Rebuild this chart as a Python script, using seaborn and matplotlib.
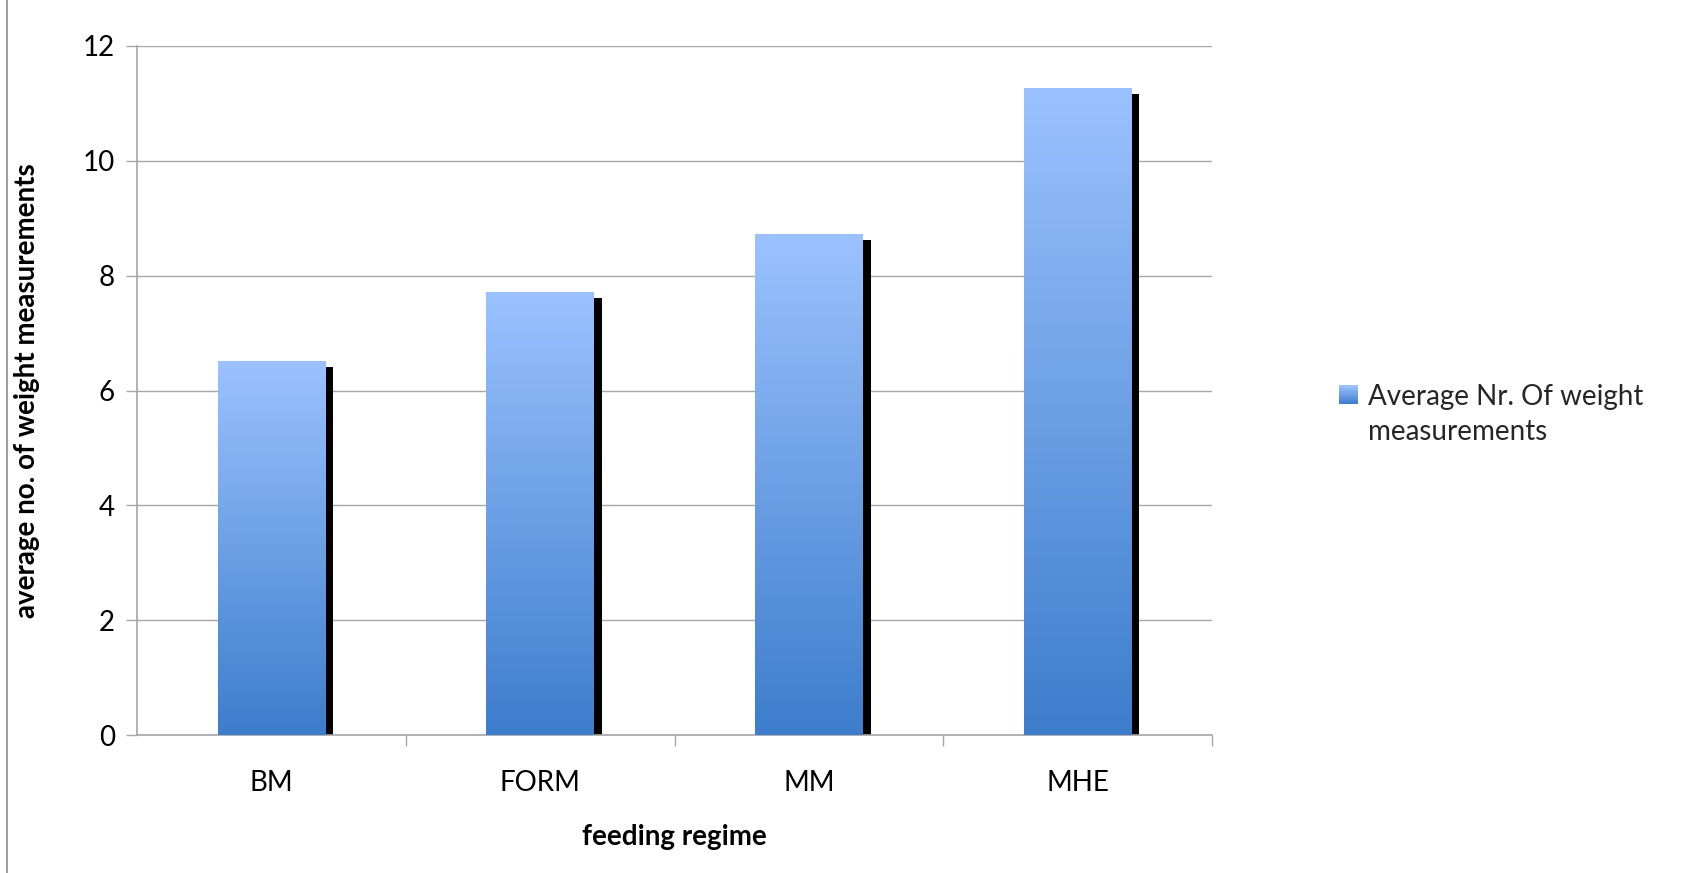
import numpy as np
import pandas as pd
import matplotlib
matplotlib.use("Agg")
import matplotlib.pyplot as plt
import matplotlib.transforms as mtransforms
from matplotlib.colors import LinearSegmentedColormap
from matplotlib.patches import Rectangle
from matplotlib.legend_handler import HandlerBase
from matplotlib.lines import Line2D
import seaborn as sns

# feeding regimes and mean number of weight measurements
regimes = ["BM", "FORM", "MM", "MHE"]
avg_measurements = [6.51, 7.71, 8.72, 11.27]
series_name = "Average Nr. Of weight\nmeasurements"
y_ticks = [0, 2, 4, 6, 8, 10, 12]

df = pd.DataFrame({"regime": regimes, "value": avg_measurements})

sns.set_theme(style="white")
plt.rcParams["font.family"] = ["Lato", "DejaVu Sans"]

W, H, DPI = 1702, 873, 100
fig = plt.figure(figsize=(W / DPI, H / DPI), dpi=DPI)
ax = fig.add_axes([137 / W, 1 - 735 / H, (1212 - 137) / W, (735 - 46) / H])

grad = LinearSegmentedColormap.from_list(
    "bar_grad", [(61 / 255, 125 / 255, 204 / 255), (155 / 255, 194 / 255, 255 / 255)])
grid_col = "#a6a6a6"
bar_w = 0.40
fs = 20

# drop shadow behind each bar
sns.barplot(data=df, x="regime", y="value", color="black", width=bar_w,
            saturation=1, ax=ax, zorder=2)
shadow_patches = list(ax.patches)
offset = mtransforms.ScaledTranslation(8 / DPI, -6 / DPI, fig.dpi_scale_trans)
for p in shadow_patches:
    p.set_transform(ax.transData + offset)
    p.set_linewidth(0)

# main bars with a vertical gradient fill
sns.barplot(data=df, x="regime", y="value", color="white", width=bar_w,
            saturation=1, ax=ax, zorder=3)
bar_patches = [p for p in ax.patches if p not in shadow_patches]
gradient = np.linspace(0, 1, 256).reshape(-1, 1)
for p in bar_patches:
    x0, y0 = p.get_x(), p.get_y()
    w, h = p.get_width(), p.get_height()
    p.set_facecolor("none")
    p.set_edgecolor("none")
    im = ax.imshow(gradient, cmap=grad, origin="lower", aspect="auto",
                   extent=[x0, x0 + w, y0, y0 + h], zorder=3, interpolation="bicubic")
    im.set_clip_path(p)

ax.set_xlim(-0.5, len(regimes) - 0.5)
ax.set_ylim(0, 12)
ax.set_yticks(y_ticks)
ax.set_yticklabels([str(t) for t in y_ticks])
ax.yaxis.grid(True, color=grid_col, linewidth=1.0, zorder=0)
ax.set_axisbelow(True)

# category boundary ticks on the x axis
ax.set_xticks(np.arange(len(regimes)))
ax.set_xticklabels(regimes)
ax.set_xticks(np.arange(len(regimes)) + 0.5, minor=True)
ax.tick_params(axis="x", which="major", length=0, pad=25, labelsize=fs, colors="black")
ax.tick_params(axis="x", which="minor", length=8, width=1, color=grid_col, bottom=True)
ax.tick_params(axis="y", length=8, width=1, color=grid_col, pad=8, labelsize=fs,
               colors="black", left=True)

for side in ("top", "right"):
    ax.spines[side].set_visible(False)
for side in ("left", "bottom"):
    ax.spines[side].set_color(grid_col)
    ax.spines[side].set_linewidth(1.2)

ax.set_xlabel("feeding regime", fontsize=fs, fontweight="bold", labelpad=20, color="black")
ax.set_ylabel("average no. of weight measurements", fontsize=fs, fontweight="bold",
              color="black")
ax.yaxis.set_label_coords(-(137 - 40) / (1212 - 137), 0.5)


class GradientSquare(HandlerBase):
    """Small gradient square aligned with the first line of the label."""

    def create_artists(self, legend, orig_handle, xdescent, ydescent,
                       width, height, fontsize, trans):
        size = min(width, height)
        x0 = xdescent + width - size
        y0 = -ydescent + (height - size) / 2 + 0.75 * fontsize
        artists = []
        n = 12
        for i in range(n):
            c = grad(1 - i / (n - 1))
            r = Rectangle((x0, y0 + size - (i + 1) * size / n), size, size / n,
                          facecolor=c, edgecolor="none", transform=trans)
            artists.append(r)
        return artists


legend_handle = Rectangle((0, 0), 1, 1)
leg = fig.legend([legend_handle], [series_name], handler_map={Rectangle: GradientSquare()},
                 loc="upper left", bbox_to_anchor=(1314 / W, 1 - 359 / H), frameon=False,
                 fontsize=fs, handlelength=0.7, handleheight=0.7, handletextpad=0.35,
                 labelspacing=0.3)
for t in leg.get_texts():
    t.set_linespacing(1.45)

# outer chart frame edge on the left
fig.add_artist(Line2D([7 / W, 7 / W], [0, 1], transform=fig.transFigure,
                      color="#8c8c8c", linewidth=1.2))

fig.savefig("out.png", dpi=DPI, facecolor="white")
